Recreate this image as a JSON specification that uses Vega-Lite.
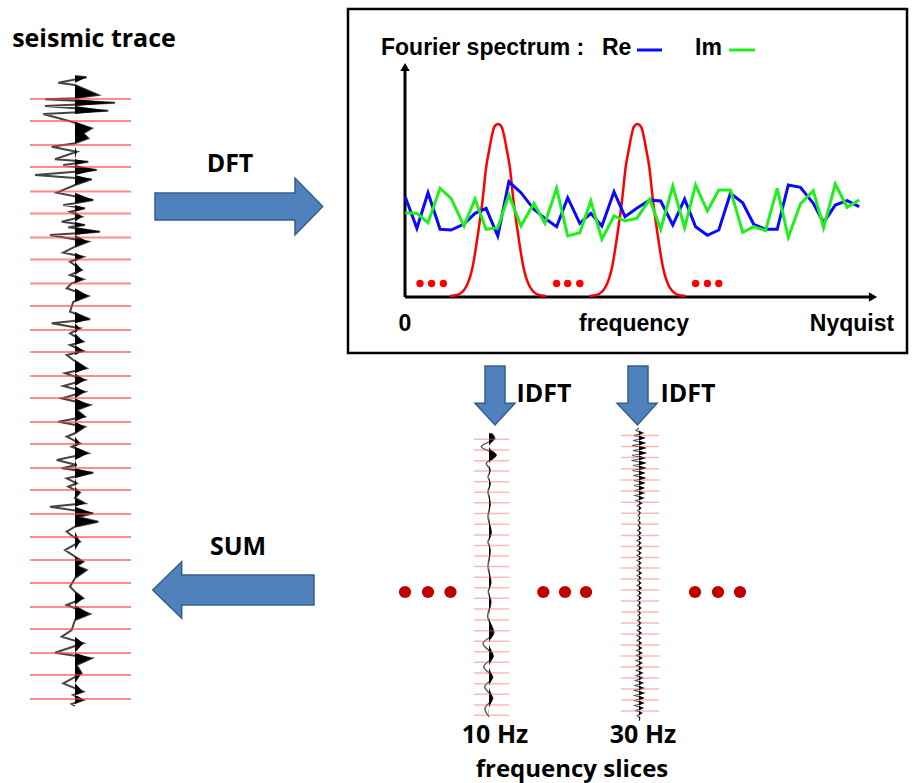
{
"$schema": "https://vega.github.io/schema/vega-lite/v6.json",
"width": 912, "height": 783,
"autosize": {"type": "fit", "contains": "padding"},
"padding": 0,
"background": "white",
"config": {"view": {"stroke": null}, "axis": {"disable": true}},
"datasets": {
"frame": [{"x1": 348, "x2": 907, "y1": 9, "y2": 353}],
"axes": [{"x1": 405, "y1": 297, "x2": 405, "y2": 70}, {"x1": 405, "y1": 297, "x2": 870, "y2": 297}],
"heads": [{"x": 405, "y": 67, "s": "triangle-up"}, {"x": 873, "y": 297, "s": "triangle-right"}],
"gauss": [
{"g":1,"f":450,"v":296},{"g":1,"f":457,"v":295},{"g":1,"f":466,"v":287},{"g":1,"f":472.6,"v":267},{"g":1,"f":478.1,"v":233},{"g":1,"f":482.6,"v":200},{"g":1,"f":486.2,"v":167},{"g":1,"f":489.2,"v":150},{"g":1,"f":492.5,"v":133},{"g":1,"f":494.3,"v":127},{"g":1,"f":498,"v":124},{"g":1,"f":501.7,"v":127},{"g":1,"f":503.5,"v":133},{"g":1,"f":506.8,"v":150},{"g":1,"f":509.8,"v":167},{"g":1,"f":513.4,"v":200},{"g":1,"f":517.9,"v":233},{"g":1,"f":523.4,"v":267},{"g":1,"f":530,"v":287},{"g":1,"f":539,"v":295},{"g":1,"f":546,"v":296},
{"g":2,"f":589.5,"v":296},{"g":2,"f":596.5,"v":295},{"g":2,"f":605.5,"v":287},{"g":2,"f":612.1,"v":267},{"g":2,"f":617.6,"v":233},{"g":2,"f":622.1,"v":200},{"g":2,"f":625.7,"v":167},{"g":2,"f":628.7,"v":150},{"g":2,"f":632,"v":133},{"g":2,"f":633.8,"v":127},{"g":2,"f":637.5,"v":124},{"g":2,"f":641.2,"v":127},{"g":2,"f":643,"v":133},{"g":2,"f":646.3,"v":150},{"g":2,"f":649.3,"v":167},{"g":2,"f":652.9,"v":200},{"g":2,"f":657.4,"v":233},{"g":2,"f":662.9,"v":267},{"g":2,"f":669.5,"v":287},{"g":2,"f":678.5,"v":295},{"g":2,"f":685.5,"v":296}
],
"spec": [
{"c":"Re","f":405.2,"v":196.7},{"c":"Re","f":416.9,"v":228.3},{"c":"Re","f":428,"v":192.7},{"c":"Re","f":440.1,"v":229.3},{"c":"Re","f":451.1,"v":230},{"c":"Re","f":464,"v":224},{"c":"Re","f":475,"v":213.3},{"c":"Re","f":486.1,"v":208.3},{"c":"Re","f":497.8,"v":236},{"c":"Re","f":508.9,"v":181.7},{"c":"Re","f":521,"v":192.7},{"c":"Re","f":533.9,"v":209.3},{"c":"Re","f":544.9,"v":218.3},{"c":"Re","f":556.6,"v":226.7},{"c":"Re","f":567.7,"v":197.7},{"c":"Re","f":579.8,"v":223.3},{"c":"Re","f":590.8,"v":213.3},{"c":"Re","f":601.9,"v":226},{"c":"Re","f":614,"v":191.7},{"c":"Re","f":625,"v":216.7},{"c":"Re","f":636.8,"v":208.3},{"c":"Re","f":649.7,"v":200},{"c":"Re","f":660.7,"v":201},{"c":"Re","f":672.8,"v":225},{"c":"Re","f":684.6,"v":199},{"c":"Re","f":695.6,"v":226.7},{"c":"Re","f":707.4,"v":235.3},{"c":"Re","f":718.8,"v":230},{"c":"Re","f":730.5,"v":193.3},{"c":"Re","f":742.7,"v":202.7},{"c":"Re","f":753.7,"v":224.3},{"c":"Re","f":765.5,"v":229.3},{"c":"Re","f":777.2,"v":229.3},{"c":"Re","f":788.3,"v":185},{"c":"Re","f":800.4,"v":187.3},{"c":"Re","f":813.3,"v":203.3},{"c":"Re","f":823.6,"v":222.7},{"c":"Re","f":835.3,"v":205},{"c":"Re","f":847.1,"v":200.7},{"c":"Re","f":859.2,"v":206.7},
{"c":"Im","f":405.2,"v":212.7},{"c":"Im","f":416.9,"v":213.3},{"c":"Im","f":428,"v":222.7},{"c":"Im","f":440.1,"v":188.3},{"c":"Im","f":451.1,"v":198.3},{"c":"Im","f":464,"v":226},{"c":"Im","f":475,"v":199},{"c":"Im","f":486.1,"v":229.3},{"c":"Im","f":497.8,"v":227.7},{"c":"Im","f":508.9,"v":195},{"c":"Im","f":521,"v":226},{"c":"Im","f":533.9,"v":203.3},{"c":"Im","f":544.9,"v":223.3},{"c":"Im","f":556.6,"v":188.3},{"c":"Im","f":567.7,"v":236},{"c":"Im","f":579.8,"v":232.7},{"c":"Im","f":590.8,"v":201},{"c":"Im","f":601.9,"v":239.3},{"c":"Im","f":614,"v":216},{"c":"Im","f":625,"v":221},{"c":"Im","f":636.8,"v":218.3},{"c":"Im","f":649.7,"v":199.3},{"c":"Im","f":660.7,"v":229.3},{"c":"Im","f":672.8,"v":186},{"c":"Im","f":684.6,"v":227.7},{"c":"Im","f":695.6,"v":185},{"c":"Im","f":707.4,"v":211},{"c":"Im","f":718.8,"v":190},{"c":"Im","f":730.5,"v":190},{"c":"Im","f":742.7,"v":232.3},{"c":"Im","f":753.7,"v":226.7},{"c":"Im","f":765.5,"v":230.7},{"c":"Im","f":777.2,"v":188.3},{"c":"Im","f":788.3,"v":237.3},{"c":"Im","f":800.4,"v":204},{"c":"Im","f":813.3,"v":190.7},{"c":"Im","f":823.6,"v":227.7},{"c":"Im","f":835.3,"v":184},{"c":"Im","f":847.1,"v":207.3},{"c":"Im","f":859.2,"v":200}
],
"leg": [{"c":"Re","x1":637,"x2":662,"y":50},{"c":"Im","x1":729,"x2":755,"y":50}],
"dots": [
{"k":"s","x":420,"y":283.5},{"k":"s","x":431.6,"y":283.5},{"k":"s","x":443.4,"y":283.5},
{"k":"s","x":556.6,"y":283.5},{"k":"s","x":567.7,"y":283.5},{"k":"s","x":579.8,"y":283.5},
{"k":"s","x":695.6,"y":283.5},{"k":"s","x":707.4,"y":283.5},{"k":"s","x":718.8,"y":283.5},
{"k":"b","x":405,"y":592},{"k":"b","x":428,"y":592},{"k":"b","x":450.5,"y":592},
{"k":"b","x":543.3,"y":592},{"k":"b","x":565,"y":592},{"k":"b","x":586,"y":592},
{"k":"b","x":695,"y":592},{"k":"b","x":718,"y":592},{"k":"b","x":740,"y":592}
],
"harrow": [
{"id":"dft","x":155,"y1":193,"y2":220},{"id":"dft","x":295,"y1":193,"y2":220},{"id":"dft","x":295.01,"y1":178,"y2":235},{"id":"dft","x":322.7,"y1":206.5,"y2":206.5},
{"id":"sum","x":152.7,"y1":590,"y2":590},{"id":"sum","x":181.7,"y1":561.7,"y2":618.3},{"id":"sum","x":181.71,"y1":575,"y2":605},{"id":"sum","x":314,"y1":575,"y2":605}
],
"varrow": [
{"id":"i1","y":366,"x1":485,"x2":505},{"id":"i1","y":403.3,"x1":485,"x2":505},{"id":"i1","y":403.31,"x1":475,"x2":515},{"id":"i1","y":425,"x1":495,"x2":495},
{"id":"i2","y":366,"x1":628,"x2":648},{"id":"i2","y":403.3,"x1":628,"x2":648},{"id":"i2","y":403.31,"x1":617,"x2":657},{"id":"i2","y":425,"x1":637.5,"x2":637.5}
],
"lab": [
{"k":"c","s":"seismic trace","x":94,"y":47},
{"k":"c","s":"DFT","x":230,"y":171.5},
{"k":"c","s":"IDFT","x":544,"y":401.5},
{"k":"c","s":"IDFT","x":688,"y":401.5},
{"k":"c","s":"SUM","x":238,"y":555},
{"k":"c","s":"10 Hz","x":495,"y":743},
{"k":"c","s":"30 Hz","x":643,"y":743},
{"k":"f","s":"frequency slices","x":572,"y":777},
{"k":"l","s":"Fourier spectrum :","x":381,"y":55},
{"k":"l","s":"Re","x":602,"y":55},
{"k":"l","s":"Im","x":695,"y":55},
{"k":"a","s":"0","x":405,"y":331},
{"k":"a","s":"frequency","x":634,"y":331},
{"k":"a","s":"Nyquist","x":852,"y":331}
],
"hl": [
{"t":"m","y":99},{"t":"m","y":121},{"t":"m","y":145},{"t":"m","y":167},{"t":"m","y":191.5},{"t":"m","y":213.5},{"t":"m","y":237.5},{"t":"m","y":259.5},{"t":"m","y":283.5},{"t":"m","y":306},{"t":"m","y":330},{"t":"m","y":352},{"t":"m","y":376},{"t":"m","y":398},{"t":"m","y":422},{"t":"m","y":444},{"t":"m","y":468},{"t":"m","y":490},{"t":"m","y":514},{"t":"m","y":537},{"t":"m","y":560},{"t":"m","y":583},{"t":"m","y":607},{"t":"m","y":629},{"t":"m","y":653},{"t":"m","y":675},{"t":"m","y":699},
{"t":"a","y":439.3},{"t":"a","y":450},{"t":"a","y":460.7},{"t":"a","y":471},{"t":"a","y":481.7},{"t":"a","y":492.3},{"t":"a","y":502.7},{"t":"a","y":513.5},{"t":"a","y":524.2},{"t":"a","y":535},{"t":"a","y":545.5},{"t":"a","y":556},{"t":"a","y":566.5},{"t":"a","y":577.3},{"t":"a","y":587.7},{"t":"a","y":598.3},{"t":"a","y":609},{"t":"a","y":620},{"t":"a","y":630.7},{"t":"a","y":641.3},{"t":"a","y":651.7},{"t":"a","y":662.3},{"t":"a","y":673},{"t":"a","y":683.7},{"t":"a","y":694.3},{"t":"a","y":705},{"t":"a","y":715.3},
{"t":"b","y":435.5},{"t":"b","y":446.5},{"t":"b","y":457.5},{"t":"b","y":468.8},{"t":"b","y":480},{"t":"b","y":491},{"t":"b","y":502.2},{"t":"b","y":513.2},{"t":"b","y":524.2},{"t":"b","y":535.5},{"t":"b","y":546.5},{"t":"b","y":557.5},{"t":"b","y":568},{"t":"b","y":579},{"t":"b","y":590},{"t":"b","y":601},{"t":"b","y":612},{"t":"b","y":623},{"t":"b","y":634},{"t":"b","y":645},{"t":"b","y":656},{"t":"b","y":667},{"t":"b","y":678},{"t":"b","y":689},{"t":"b","y":700},{"t":"b","y":711}
],
"tr": [
{"t":"m","y":76,"a":0},{"t":"m","y":77.3,"a":11.7},{"t":"m","y":82.7,"a":-16.7},{"t":"m","y":85,"a":0},{"t":"m","y":95,"a":23.3},{"t":"m","y":98.3,"a":0},{"t":"m","y":99.3,"a":-30},{"t":"m","y":102.7,"a":40},{"t":"m","y":106,"a":-30},{"t":"m","y":110.7,"a":33.3},{"t":"m","y":114,"a":-31.7},{"t":"m","y":121.7,"a":-3.3},{"t":"m","y":128.3,"a":16.7},{"t":"m","y":133.3,"a":8.3},{"t":"m","y":138.3,"a":13.3},{"t":"m","y":143.3,"a":0},{"t":"m","y":146.7,"a":-23.3},{"t":"m","y":151.7,"a":1.7},{"t":"m","y":159.3,"a":-20},{"t":"m","y":161.7,"a":13.3},{"t":"m","y":165,"a":-11.7},{"t":"m","y":170,"a":21.7},{"t":"m","y":175,"a":-40},{"t":"m","y":179.3,"a":16.7},{"t":"m","y":185,"a":0},{"t":"m","y":192.7,"a":-18.3},{"t":"m","y":200,"a":18.3},{"t":"m","y":203.3,"a":0},{"t":"m","y":205,"a":-11.7},{"t":"m","y":208.3,"a":10},{"t":"m","y":211.7,"a":-5},{"t":"m","y":216.7,"a":6.7},{"t":"m","y":221.7,"a":-13.3},{"t":"m","y":225,"a":10},{"t":"m","y":227.3,"a":-6.7},{"t":"m","y":231.7,"a":25},{"t":"m","y":235,"a":-25},{"t":"m","y":241.7,"a":13.3},{"t":"m","y":246.7,"a":0},{"t":"m","y":252.7,"a":-11.7},{"t":"m","y":256.7,"a":8.3},{"t":"m","y":261.7,"a":-5},{"t":"m","y":270,"a":6.7},{"t":"m","y":275,"a":-5},{"t":"m","y":279.3,"a":8.3},{"t":"m","y":283.3,"a":-3.3},{"t":"m","y":288.3,"a":-8.3},{"t":"m","y":296,"a":13.3},{"t":"m","y":301.7,"a":-1.7},{"t":"m","y":311.7,"a":-5},{"t":"m","y":319.3,"a":15},{"t":"m","y":323.3,"a":-23.3},{"t":"m","y":328.3,"a":5},{"t":"m","y":333.3,"a":-5},{"t":"m","y":341.7,"a":8.3},{"t":"m","y":345,"a":-5},{"t":"m","y":351,"a":8.3},{"t":"m","y":355,"a":-8.3},{"t":"m","y":360,"a":-1.7},{"t":"m","y":368.3,"a":11.7},{"t":"m","y":373.3,"a":-10},{"t":"m","y":380,"a":10},{"t":"m","y":386,"a":-11.7},{"t":"m","y":391.7,"a":10},{"t":"m","y":398.3,"a":-13.3},{"t":"m","y":405,"a":15},{"t":"m","y":410,"a":1.7},{"t":"m","y":416.7,"a":10},{"t":"m","y":421.7,"a":-16.7},{"t":"m","y":426.7,"a":10},{"t":"m","y":433.3,"a":0},{"t":"m","y":436.7,"a":-8.3},{"t":"m","y":443.3,"a":5},{"t":"m","y":446.7,"a":-3.3},{"t":"m","y":453.3,"a":13.3},{"t":"m","y":460,"a":-18.3},{"t":"m","y":465,"a":1.7},{"t":"m","y":468.3,"a":-13.3},{"t":"m","y":472.7,"a":18.3},{"t":"m","y":478.3,"a":-8.3},{"t":"m","y":483.3,"a":1.7},{"t":"m","y":486.7,"a":-6.7},{"t":"m","y":492.5,"a":5},{"t":"m","y":498,"a":0},{"t":"m","y":503.3,"a":10},{"t":"m","y":506.7,"a":-25},{"t":"m","y":513.3,"a":18.3},{"t":"m","y":517,"a":3},{"t":"m","y":521.7,"a":23.3},{"t":"m","y":526.7,"a":0},{"t":"m","y":531.7,"a":-8.3},{"t":"m","y":541.7,"a":5},{"t":"m","y":550,"a":-10},{"t":"m","y":556.7,"a":0},{"t":"m","y":561.7,"a":8.3},{"t":"m","y":566,"a":2},{"t":"m","y":570,"a":11.7},{"t":"m","y":578.3,"a":0},{"t":"m","y":586.7,"a":-5},{"t":"m","y":591.7,"a":0},{"t":"m","y":598.3,"a":8.3},{"t":"m","y":605,"a":-8.3},{"t":"m","y":614,"a":15},{"t":"m","y":620,"a":0},{"t":"m","y":630,"a":-3.3},{"t":"m","y":636.7,"a":-13.3},{"t":"m","y":643.3,"a":8.3},{"t":"m","y":652.7,"a":-20},{"t":"m","y":658.3,"a":16.7},{"t":"m","y":665,"a":1.7},{"t":"m","y":673.3,"a":6.7},{"t":"m","y":683.3,"a":-11.7},{"t":"m","y":691.7,"a":8.3},{"t":"m","y":695,"a":-1.7},{"t":"m","y":700,"a":8.3},{"t":"m","y":704,"a":-3.3},{"t":"m","y":706,"a":0},
{"t":"a","y":433.3,"a":2.3},{"t":"a","y":438.3,"a":5.7},{"t":"a","y":446.7,"a":-7.7},{"t":"a","y":455,"a":7.3},{"t":"a","y":463.3,"a":-2.7},{"t":"a","y":470,"a":1.3},{"t":"a","y":476.7,"a":-1},{"t":"a","y":483.3,"a":1.3},{"t":"a","y":491.7,"a":-1},{"t":"a","y":503.3,"a":1.3},{"t":"a","y":516.7,"a":-1},{"t":"a","y":533.3,"a":2.3},{"t":"a","y":541.7,"a":-1},{"t":"a","y":550,"a":1.3},{"t":"a","y":566.7,"a":-1},{"t":"a","y":582.7,"a":2},{"t":"a","y":591.7,"a":-0.7},{"t":"a","y":601.7,"a":2},{"t":"a","y":616.7,"a":-1.3},{"t":"a","y":633.3,"a":4.7},{"t":"a","y":643.3,"a":-6},{"t":"a","y":656,"a":4.3},{"t":"a","y":666.7,"a":-5.3},{"t":"a","y":677.3,"a":3.7},{"t":"a","y":686.7,"a":-4.3},{"t":"a","y":698.3,"a":3.7},{"t":"a","y":708.3,"a":-4},{"t":"a","y":716.7,"a":0},
{"t":"b","y":428,"a":0},{"t":"b","y":430.5,"a":-3},{"t":"b","y":433,"a":4},{"t":"b","y":435.5,"a":-5},{"t":"b","y":438,"a":6},{"t":"b","y":440.5,"a":-6},{"t":"b","y":443,"a":6.5},{"t":"b","y":445.5,"a":-7},{"t":"b","y":448,"a":7},{"t":"b","y":450.5,"a":-6},{"t":"b","y":453,"a":7.5},{"t":"b","y":455.5,"a":-7},{"t":"b","y":458,"a":6.5},{"t":"b","y":460.5,"a":-7.5},{"t":"b","y":463,"a":7},{"t":"b","y":465.5,"a":-6},{"t":"b","y":468,"a":7},{"t":"b","y":470.5,"a":-6.5},{"t":"b","y":473,"a":6},{"t":"b","y":475.5,"a":-5.5},{"t":"b","y":478,"a":6.5},{"t":"b","y":480.5,"a":-5},{"t":"b","y":483,"a":6},{"t":"b","y":485.5,"a":-5},{"t":"b","y":488,"a":5.5},{"t":"b","y":490.5,"a":-4.5},{"t":"b","y":493,"a":5},{"t":"b","y":495.5,"a":-4},{"t":"b","y":498,"a":4.5},{"t":"b","y":500.5,"a":-3},{"t":"b","y":503,"a":3},{"t":"b","y":505.5,"a":-2},{"t":"b","y":508,"a":2},{"t":"b","y":510.5,"a":-1.5},{"t":"b","y":513,"a":1.5},{"t":"b","y":515.5,"a":-1},{"t":"b","y":518,"a":1},{"t":"b","y":520.5,"a":-1},{"t":"b","y":523,"a":1.5},{"t":"b","y":525.5,"a":-1},{"t":"b","y":528,"a":1.5},{"t":"b","y":530.5,"a":-1.5},{"t":"b","y":533,"a":2},{"t":"b","y":535.5,"a":-1.5},{"t":"b","y":538,"a":2},{"t":"b","y":540.5,"a":-2},{"t":"b","y":543,"a":2},{"t":"b","y":545.5,"a":-1.5},{"t":"b","y":548,"a":2.5},{"t":"b","y":550.5,"a":-2},{"t":"b","y":553,"a":2},{"t":"b","y":555.5,"a":-2},{"t":"b","y":558,"a":2.5},{"t":"b","y":560.5,"a":-2},{"t":"b","y":563,"a":2},{"t":"b","y":565.5,"a":-1.5},{"t":"b","y":568,"a":2},{"t":"b","y":570.5,"a":-2},{"t":"b","y":573,"a":2.5},{"t":"b","y":575.5,"a":-2},{"t":"b","y":578,"a":2},{"t":"b","y":580.5,"a":-1.5},{"t":"b","y":583,"a":2},{"t":"b","y":585.5,"a":-2},{"t":"b","y":588,"a":2.5},{"t":"b","y":590.5,"a":-2},{"t":"b","y":593,"a":2},{"t":"b","y":595.5,"a":-1.5},{"t":"b","y":598,"a":2},{"t":"b","y":600.5,"a":-1.5},{"t":"b","y":603,"a":1.5},{"t":"b","y":605.5,"a":-1.5},{"t":"b","y":608,"a":2},{"t":"b","y":610.5,"a":-1.5},{"t":"b","y":613,"a":1.5},{"t":"b","y":615.5,"a":-1},{"t":"b","y":618,"a":1.5},{"t":"b","y":620.5,"a":-1.5},{"t":"b","y":623,"a":2},{"t":"b","y":625.5,"a":-1.5},{"t":"b","y":628,"a":2},{"t":"b","y":630.5,"a":-2},{"t":"b","y":633,"a":2.5},{"t":"b","y":635.5,"a":-2},{"t":"b","y":638,"a":2},{"t":"b","y":640.5,"a":-2},{"t":"b","y":643,"a":2.5},{"t":"b","y":645.5,"a":-2},{"t":"b","y":648,"a":2.5},{"t":"b","y":650.5,"a":-2.5},{"t":"b","y":653,"a":3},{"t":"b","y":655.5,"a":-2.5},{"t":"b","y":658,"a":3},{"t":"b","y":660.5,"a":-3},{"t":"b","y":663,"a":3},{"t":"b","y":665.5,"a":-2.5},{"t":"b","y":668,"a":3},{"t":"b","y":670.5,"a":-3},{"t":"b","y":673,"a":3.5},{"t":"b","y":675.5,"a":-3},{"t":"b","y":678,"a":3.5},{"t":"b","y":680.5,"a":-3.5},{"t":"b","y":683,"a":4},{"t":"b","y":685.5,"a":-4},{"t":"b","y":688,"a":4.5},{"t":"b","y":690.5,"a":-4.5},{"t":"b","y":693,"a":5},{"t":"b","y":695.5,"a":-4.5},{"t":"b","y":698,"a":5},{"t":"b","y":700.5,"a":-5},{"t":"b","y":703,"a":5},{"t":"b","y":705.5,"a":-4.5},{"t":"b","y":708,"a":4},{"t":"b","y":710.5,"a":-3},{"t":"b","y":713,"a":3},{"t":"b","y":715.5,"a":-2},{"t":"b","y":718,"a":1},{"t":"b","y":721,"a":0}
]
},
"resolve": {"scale": {"x": "independent"}},
"layer": [
{"layer": [
 {"data": {"name": "frame"}, "mark": {"type": "rect", "filled": false, "color": "#000000", "strokeWidth": 2.5},
  "encoding": {"x": {"field": "x1", "type": "quantitative", "scale": {"domain": [0, 912], "nice": false, "zero": false}, "axis": null}, "x2": {"field": "x2"},
   "y": {"field": "y1", "type": "quantitative", "scale": {"domain": [0, 783], "reverse": true, "nice": false, "zero": false}, "axis": null}, "y2": {"field": "y2"}}},
 {"data": {"name": "axes"}, "mark": {"type": "rule", "color": "#000000", "strokeWidth": 3},
  "encoding": {"x": {"field": "x1", "type": "quantitative", "scale": {"domain": [0, 912], "nice": false, "zero": false}, "axis": null}, "x2": {"field": "x2"},
   "y": {"field": "y1", "type": "quantitative", "scale": {"domain": [0, 783], "reverse": true, "nice": false, "zero": false}, "axis": null}, "y2": {"field": "y2"}}},
 {"data": {"name": "heads"}, "mark": {"type": "point", "filled": true, "color": "#000000", "size": 90, "opacity": 1},
  "encoding": {"x": {"field": "x", "type": "quantitative", "scale": {"domain": [0, 912], "nice": false, "zero": false}, "axis": null},
   "y": {"field": "y", "type": "quantitative", "scale": {"domain": [0, 783], "reverse": true, "nice": false, "zero": false}, "axis": null},
   "shape": {"field": "s", "type": "nominal", "scale": null}}},
 {"data": {"name": "gauss"}, "mark": {"type": "line", "color": "#ff0000", "strokeWidth": 2.5, "interpolate": "monotone"},
  "encoding": {"x": {"field": "f", "type": "quantitative", "scale": {"domain": [0, 912], "nice": false, "zero": false}, "axis": null},
   "y": {"field": "v", "type": "quantitative", "scale": {"domain": [0, 783], "reverse": true, "nice": false, "zero": false}, "axis": null},
   "detail": {"field": "g", "type": "nominal"}}},
 {"data": {"name": "spec"}, "mark": {"type": "line", "strokeWidth": 3},
  "encoding": {"x": {"field": "f", "type": "quantitative", "scale": {"domain": [0, 912], "nice": false, "zero": false}, "axis": null},
   "y": {"field": "v", "type": "quantitative", "scale": {"domain": [0, 783], "reverse": true, "nice": false, "zero": false}, "axis": null},
   "color": {"field": "c", "type": "nominal", "scale": {"domain": ["Re", "Im"], "range": ["#0a0aff", "#1ef01e"]}, "legend": null}}},
 {"data": {"name": "leg"}, "mark": {"type": "rule", "strokeWidth": 3},
  "encoding": {"x": {"field": "x1", "type": "quantitative", "scale": {"domain": [0, 912], "nice": false, "zero": false}, "axis": null}, "x2": {"field": "x2"},
   "y": {"field": "y", "type": "quantitative", "scale": {"domain": [0, 783], "reverse": true, "nice": false, "zero": false}, "axis": null},
   "color": {"field": "c", "type": "nominal", "scale": {"domain": ["Re", "Im"], "range": ["#0a0aff", "#1ef01e"]}, "legend": null}}},
 {"data": {"name": "dots"}, "transform": [{"filter": "datum.k == 's'"}], "mark": {"type": "circle", "color": "#ff0000", "size": 55, "opacity": 1},
  "encoding": {"x": {"field": "x", "type": "quantitative", "scale": {"domain": [0, 912], "nice": false, "zero": false}, "axis": null},
   "y": {"field": "y", "type": "quantitative", "scale": {"domain": [0, 783], "reverse": true, "nice": false, "zero": false}, "axis": null}}},
 {"data": {"name": "dots"}, "transform": [{"filter": "datum.k == 'b'"}], "mark": {"type": "circle", "color": "#c00000", "size": 150, "opacity": 1},
  "encoding": {"x": {"field": "x", "type": "quantitative", "scale": {"domain": [0, 912], "nice": false, "zero": false}, "axis": null},
   "y": {"field": "y", "type": "quantitative", "scale": {"domain": [0, 783], "reverse": true, "nice": false, "zero": false}, "axis": null}}},
 {"data": {"name": "harrow"}, "mark": {"type": "area", "orient": "vertical", "fill": "#4f81bd", "stroke": "#385d8a", "strokeWidth": 1.5, "opacity": 1},
  "encoding": {"x": {"field": "x", "type": "quantitative", "scale": {"domain": [0, 912], "nice": false, "zero": false}, "axis": null},
   "y": {"field": "y1", "type": "quantitative", "scale": {"domain": [0, 783], "reverse": true, "nice": false, "zero": false}, "axis": null}, "y2": {"field": "y2"},
   "detail": {"field": "id", "type": "nominal"}}},
 {"data": {"name": "varrow"}, "mark": {"type": "area", "orient": "horizontal", "fill": "#4f81bd", "stroke": "#385d8a", "strokeWidth": 1.5, "opacity": 1},
  "encoding": {"y": {"field": "y", "type": "quantitative", "scale": {"domain": [0, 783], "reverse": true, "nice": false, "zero": false}, "axis": null},
   "x": {"field": "x1", "type": "quantitative", "scale": {"domain": [0, 912], "nice": false, "zero": false}, "axis": null}, "x2": {"field": "x2"},
   "detail": {"field": "id", "type": "nominal"}}},
 {"data": {"name": "lab"}, "transform": [{"filter": "datum.k == 'c'"}], "mark": {"type": "text", "font": "Open Sans", "fontWeight": "bold", "fontSize": 25, "align": "center", "baseline": "alphabetic", "color": "#000000"},
  "encoding": {"x": {"field": "x", "type": "quantitative", "scale": {"domain": [0, 912], "nice": false, "zero": false}, "axis": null},
   "y": {"field": "y", "type": "quantitative", "scale": {"domain": [0, 783], "reverse": true, "nice": false, "zero": false}, "axis": null},
   "text": {"field": "s", "type": "nominal"}}},
 {"data": {"name": "lab"}, "transform": [{"filter": "datum.k == 'f'"}], "mark": {"type": "text", "font": "Open Sans", "fontWeight": "bold", "fontSize": 24, "align": "center", "baseline": "alphabetic", "color": "#000000"},
  "encoding": {"x": {"field": "x", "type": "quantitative", "scale": {"domain": [0, 912], "nice": false, "zero": false}, "axis": null},
   "y": {"field": "y", "type": "quantitative", "scale": {"domain": [0, 783], "reverse": true, "nice": false, "zero": false}, "axis": null},
   "text": {"field": "s", "type": "nominal"}}},
 {"data": {"name": "lab"}, "transform": [{"filter": "datum.k == 'l'"}], "mark": {"type": "text", "font": "Liberation Sans", "fontWeight": "bold", "fontSize": 23, "align": "left", "baseline": "alphabetic", "color": "#000000"},
  "encoding": {"x": {"field": "x", "type": "quantitative", "scale": {"domain": [0, 912], "nice": false, "zero": false}, "axis": null},
   "y": {"field": "y", "type": "quantitative", "scale": {"domain": [0, 783], "reverse": true, "nice": false, "zero": false}, "axis": null},
   "text": {"field": "s", "type": "nominal"}}},
 {"data": {"name": "lab"}, "transform": [{"filter": "datum.k == 'a'"}], "mark": {"type": "text", "font": "Liberation Sans", "fontWeight": "bold", "fontSize": 23, "align": "center", "baseline": "alphabetic", "color": "#000000"},
  "encoding": {"x": {"field": "x", "type": "quantitative", "scale": {"domain": [0, 912], "nice": false, "zero": false}, "axis": null},
   "y": {"field": "y", "type": "quantitative", "scale": {"domain": [0, 783], "reverse": true, "nice": false, "zero": false}, "axis": null},
   "text": {"field": "s", "type": "nominal"}}}
]},
{"data": {"name": "tr"}, "transform": [{"filter": "datum.t == 'm'"}], "mark": {"type": "line", "color": "#444444", "strokeWidth": 2},
 "encoding": {"x": {"field": "a", "type": "quantitative", "scale": {"domain": [-60, 60], "range": [15, 135], "nice": false, "zero": false}, "axis": null},
  "y": {"field": "y", "type": "quantitative", "scale": {"domain": [0, 783], "reverse": true, "nice": false, "zero": false}, "axis": null},
  "order": {"field": "y", "type": "quantitative"}}},
{"data": {"name": "tr"}, "transform": [{"filter": "datum.t == 'm'"}], "mark": {"type": "area", "orient": "horizontal", "color": "#000000", "opacity": 1},
 "encoding": {"x": {"field": "a", "type": "quantitative", "scale": {"domain": [0, 60], "range": [75, 135], "clamp": true, "nice": false, "zero": false}, "axis": null}, "x2": {"datum": 0},
  "y": {"field": "y", "type": "quantitative", "scale": {"domain": [0, 783], "reverse": true, "nice": false, "zero": false}, "axis": null}}},
{"data": {"name": "tr"}, "transform": [{"filter": "datum.t == 'a'"}], "mark": {"type": "line", "color": "#555555", "strokeWidth": 1.4, "interpolate": "catmull-rom"},
 "encoding": {"x": {"field": "a", "type": "quantitative", "scale": {"domain": [-60, 60], "range": [429, 549], "nice": false, "zero": false}, "axis": null},
  "y": {"field": "y", "type": "quantitative", "scale": {"domain": [0, 783], "reverse": true, "nice": false, "zero": false}, "axis": null},
  "order": {"field": "y", "type": "quantitative"}}},
{"data": {"name": "tr"}, "transform": [{"filter": "datum.t == 'a'"}], "mark": {"type": "area", "orient": "horizontal", "color": "#000000", "opacity": 1, "interpolate": "catmull-rom"},
 "encoding": {"x": {"field": "a", "type": "quantitative", "scale": {"domain": [0, 60], "range": [489, 549], "clamp": true, "nice": false, "zero": false}, "axis": null}, "x2": {"datum": 0},
  "y": {"field": "y", "type": "quantitative", "scale": {"domain": [0, 783], "reverse": true, "nice": false, "zero": false}, "axis": null}}},
{"data": {"name": "tr"}, "transform": [{"filter": "datum.t == 'b'"}], "mark": {"type": "line", "color": "#555555", "strokeWidth": 1.1},
 "encoding": {"x": {"field": "a", "type": "quantitative", "scale": {"domain": [-60, 60], "range": [579, 699], "nice": false, "zero": false}, "axis": null},
  "y": {"field": "y", "type": "quantitative", "scale": {"domain": [0, 783], "reverse": true, "nice": false, "zero": false}, "axis": null},
  "order": {"field": "y", "type": "quantitative"}}},
{"data": {"name": "tr"}, "transform": [{"filter": "datum.t == 'b'"}], "mark": {"type": "area", "orient": "horizontal", "color": "#000000", "opacity": 1},
 "encoding": {"x": {"field": "a", "type": "quantitative", "scale": {"domain": [0, 60], "range": [639, 699], "clamp": true, "nice": false, "zero": false}, "axis": null}, "x2": {"datum": 0},
  "y": {"field": "y", "type": "quantitative", "scale": {"domain": [0, 783], "reverse": true, "nice": false, "zero": false}, "axis": null}}},
{"layer": [
 {"data": {"name": "hl"}, "transform": [{"filter": "datum.t == 'm'"}], "mark": {"type": "rule", "color": "#ff4040", "opacity": 0.6, "strokeWidth": 2},
  "encoding": {"x": {"datum": 30, "type": "quantitative", "scale": {"domain": [0, 912], "nice": false, "zero": false}, "axis": null}, "x2": {"datum": 131},
   "y": {"field": "y", "type": "quantitative", "scale": {"domain": [0, 783], "reverse": true, "nice": false, "zero": false}, "axis": null}}},
 {"data": {"name": "hl"}, "transform": [{"filter": "datum.t == 'a'"}], "mark": {"type": "rule", "color": "#ff6060", "opacity": 0.45, "strokeWidth": 1.5},
  "encoding": {"x": {"datum": 474, "type": "quantitative", "scale": {"domain": [0, 912], "nice": false, "zero": false}, "axis": null}, "x2": {"datum": 509},
   "y": {"field": "y", "type": "quantitative", "scale": {"domain": [0, 783], "reverse": true, "nice": false, "zero": false}, "axis": null}}},
 {"data": {"name": "hl"}, "transform": [{"filter": "datum.t == 'b'"}], "mark": {"type": "rule", "color": "#ff6060", "opacity": 0.45, "strokeWidth": 1.5},
  "encoding": {"x": {"datum": 621, "type": "quantitative", "scale": {"domain": [0, 912], "nice": false, "zero": false}, "axis": null}, "x2": {"datum": 659},
   "y": {"field": "y", "type": "quantitative", "scale": {"domain": [0, 783], "reverse": true, "nice": false, "zero": false}, "axis": null}}}
]}
]
}
